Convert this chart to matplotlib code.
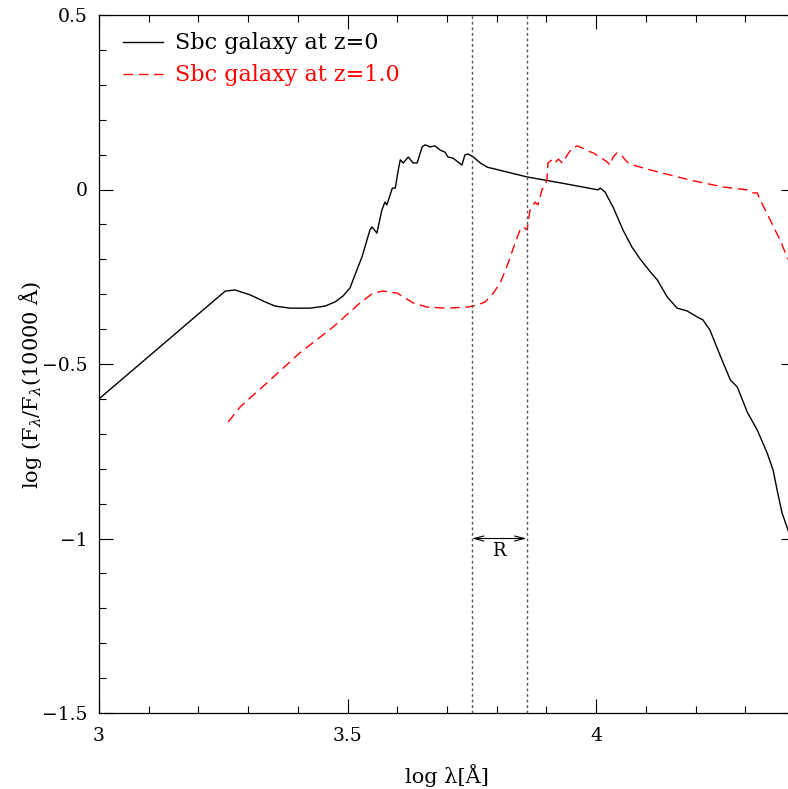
import matplotlib
matplotlib.use("Agg")
import matplotlib.pyplot as plt
from matplotlib.ticker import MultipleLocator, FuncFormatter

plt.rcParams['font.family'] = ['DejaVu Serif']
plt.rcParams['mathtext.fontset'] = 'dejavuserif'

# Sbc galaxy at z=0
black_x = [3.000, 3.254, 3.274, 3.304, 3.334, 3.354, 3.384, 3.425, 3.455, 3.475,
           3.491, 3.505, 3.511, 3.529, 3.545, 3.549, 3.559, 3.569, 3.575, 3.579,
           3.590, 3.596, 3.602, 3.606, 3.612, 3.622, 3.632, 3.640, 3.650, 3.656,
           3.666, 3.676, 3.686, 3.696, 3.702, 3.712, 3.722, 3.730, 3.736, 3.742,
           3.753, 3.767, 3.781, 3.861, 3.928, 4.004, 4.008, 4.018, 4.024, 4.034,
           4.054, 4.072, 4.089, 4.109, 4.123, 4.143, 4.163, 4.183, 4.203, 4.215,
           4.229, 4.249, 4.270, 4.284, 4.304, 4.324, 4.344, 4.356, 4.364, 4.374,
           4.386, 4.400]
black_y = [-0.600, -0.291, -0.288, -0.302, -0.322, -0.334, -0.340, -0.340, -0.334, -0.322,
           -0.305, -0.282, -0.259, -0.193, -0.116, -0.107, -0.125, -0.059, -0.036, -0.044,
           0.004, 0.004, 0.056, 0.085, 0.076, 0.093, 0.076, 0.076, 0.122, 0.128,
           0.122, 0.125, 0.113, 0.107, 0.093, 0.090, 0.079, 0.070, 0.099, 0.102,
           0.093, 0.076, 0.064, 0.036, 0.019, -0.001, 0.004, -0.007, -0.024, -0.050,
           -0.116, -0.165, -0.200, -0.236, -0.259, -0.308, -0.340, -0.348, -0.365, -0.374,
           -0.403, -0.474, -0.546, -0.566, -0.638, -0.689, -0.755, -0.804, -0.861, -0.927,
           -0.976, -1.030]

# Sbc galaxy at z=1.0
red_x = [3.260, 3.284, 3.338, 3.404, 3.471, 3.525, 3.551, 3.571, 3.600, 3.632,
         3.660, 3.700, 3.740, 3.761, 3.777, 3.793, 3.807, 3.823, 3.837, 3.847,
         3.853, 3.861, 3.867, 3.877, 3.883, 3.891, 3.897, 3.901, 3.903, 3.911,
         3.917, 3.924, 3.932, 3.942, 3.952, 3.962, 3.972, 3.984, 3.994, 4.008,
         4.022, 4.028, 4.034, 4.042, 4.052, 4.062, 4.074, 4.089, 4.109, 4.189,
         4.256, 4.304, 4.316, 4.324, 4.330, 4.350, 4.370, 4.384, 4.400]
red_y = [-0.666, -0.623, -0.554, -0.468, -0.394, -0.325, -0.297, -0.291, -0.297, -0.325,
         -0.337, -0.340, -0.337, -0.331, -0.322, -0.297, -0.268, -0.211, -0.153, -0.116,
         -0.107, -0.116, -0.059, -0.036, -0.044, -0.001, 0.013, 0.027, 0.076, 0.085,
         0.076, 0.087, 0.076, 0.099, 0.119, 0.125, 0.119, 0.110, 0.105, 0.093,
         0.079, 0.070, 0.093, 0.105, 0.096, 0.079, 0.070, 0.064, 0.056, 0.027,
         0.007, -0.001, -0.010, -0.010, -0.030, -0.087, -0.145, -0.193, -0.240]

labels = ["Sbc galaxy at z=0", "Sbc galaxy at z=1.0"]
band_edges = [3.75, 3.86]
band_label = "R"

fig = plt.figure(figsize=(7.88, 7.89), dpi=100)
# right spine sits just outside the picture, like the original
ax = fig.add_axes([99 / 788, 76 / 789, 696 / 788, 698 / 789])

ax.plot(black_x, black_y, color='black', lw=1.0, label=labels[0])
ax.plot(red_x, red_y, color='red', lw=1.0, dashes=(7, 4), label=labels[1])

for xe in band_edges:
    ax.axvline(xe, color='#555555', lw=1.0, dashes=(2, 2))

ax.annotate('', xy=(band_edges[0], -1.0), xytext=(band_edges[1], -1.0),
            arrowprops=dict(arrowstyle='<->,head_length=0.7,head_width=0.18',
                            color='black', lw=0.8, shrinkA=0, shrinkB=0))
ax.text(sum(band_edges) / 2, -1.035, band_label, ha='center', va='center', fontsize=13)

ax.set_xlim(3, 4.4)
ax.set_ylim(-1.5, 0.5)
ax.xaxis.set_major_locator(MultipleLocator(0.5))
ax.xaxis.set_minor_locator(MultipleLocator(0.1))
ax.yaxis.set_major_locator(MultipleLocator(0.5))
ax.yaxis.set_minor_locator(MultipleLocator(0.1))
fmt = FuncFormatter(lambda v, p: ('%g' % v).replace('-', '\u2212'))
ax.xaxis.set_major_formatter(fmt)
ax.yaxis.set_major_formatter(fmt)

ax.tick_params(which='both', direction='in', top=True, right=True, labelsize=13.5)
ax.tick_params(which='major', length=10, width=0.8)
ax.tick_params(which='minor', length=5, width=0.8)
ax.tick_params(axis='x', pad=10)
ax.tick_params(axis='y', pad=8)
for s in ax.spines.values():
    s.set_linewidth(0.9)

ax.set_xlabel('log \u03bb[\u00c5]', fontsize=15)
ax.xaxis.set_label_coords(0.5, -0.089)
ax.xaxis.label.set_va('center')
ax.set_ylabel('log (F$_\\lambda$/F$_\\lambda$(10000 \u00c5)', fontsize=15)
ax.yaxis.set_label_coords(-0.099, 0.47)
ax.yaxis.label.set_va('center')

ax.legend(loc='upper left', bbox_to_anchor=(0.034, 0.975), frameon=False,
          fontsize=16, handlelength=1.8, handletextpad=0.55, labelspacing=0.45,
          borderpad=0, borderaxespad=0, labelcolor='linecolor')

fig.savefig('out.png', dpi=100)
